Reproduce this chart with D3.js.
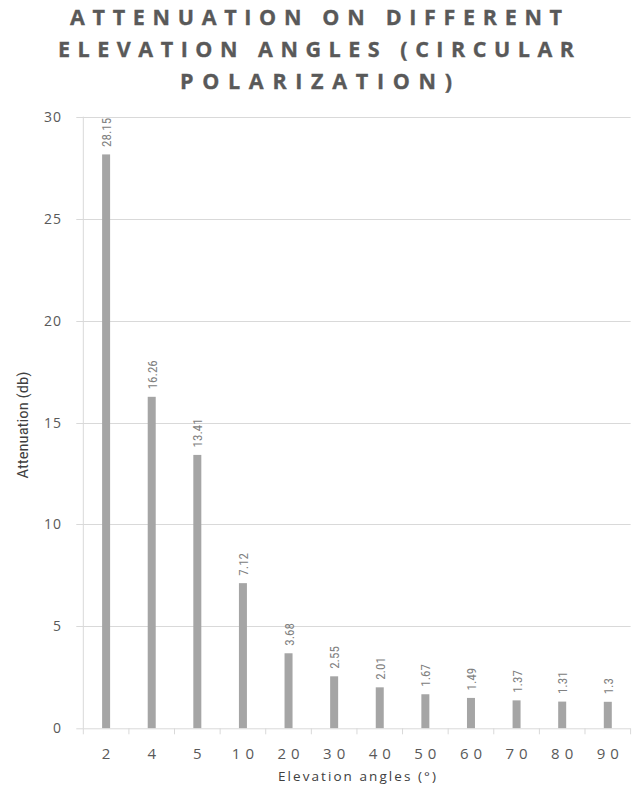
<!DOCTYPE html>
<html><head><meta charset="utf-8">
<script src="https://cdn.jsdelivr.net/npm/d3@7"></script>
<style>body{margin:0;background:#fff}</style>
</head><body>
<svg id="chart" width="636" height="787"></svg>
<script>
const titleLines = ["ATTENUATION ON DIFFERENT","ELEVATION ANGLES (CIRCULAR","POLARIZATION)"];
const categories = ["2","4","5","10","20","30","40","50","60","70","80","90"];
const values = [28.15,16.26,13.41,7.12,3.68,2.55,2.01,1.67,1.49,1.37,1.31,1.3];
const yTicks = [0,5,10,15,20,25,30];
const yTitle = "Attenuation (db)";
const xTitle = "Elevation angles (°)";

const svg = d3.select("#chart");
const pLeft = 83.3, pRight = 630.6, pTop = 116.7, pBottom = 728.3;
const x = d3.scaleBand().domain(categories).range([pLeft, pRight]);
const y = d3.scaleLinear().domain([0, 30]).range([pBottom, pTop]);

// title
const titleWidths = [492, 516, 272];
const titleBase = [25.3, 57.4, 89.4];
titleLines.forEach((t, i) => {
  svg.append("text").attr("x", 316).attr("y", titleBase[i])
    .attr("text-anchor", "middle")
    .attr("font-family", "'Open Sans', sans-serif").attr("font-weight", 700)
    .attr("font-size", 21.5).attr("fill", "#595959")
    .attr("stroke", "#595959").attr("stroke-width", 0.35)
    .attr("textLength", titleWidths[i]).attr("lengthAdjust", "spacing")
    .text(t);
});

// gridlines
svg.append("g").selectAll("line").data(yTicks.filter(d => d > 0)).join("line")
  .attr("x1", pLeft - 7).attr("x2", pRight)
  .attr("y1", d => Math.round(y(d)) + 0.5).attr("y2", d => Math.round(y(d)) + 0.5)
  .attr("stroke", "#d9d9d9").attr("stroke-width", 1);

// y axis line
svg.append("line").attr("x1", pLeft).attr("x2", pLeft).attr("y1", pTop).attr("y2", pBottom)
  .attr("stroke", "#d9d9d9");

// y tick labels
svg.append("g").selectAll("text").data(yTicks).join("text")
  .attr("x", 62).attr("y", d => y(d) + 5)
  .attr("text-anchor", "end")
  .attr("font-family", "'Open Sans', sans-serif").attr("font-size", 14)
  .attr("letter-spacing", 1).attr("fill", "#595959")
  .text(d => d);

// bars
const barW = 8;
svg.append("g").selectAll("rect").data(values).join("rect")
  .attr("x", (d, i) => x(categories[i]) + x.bandwidth() / 2 - barW / 2)
  .attr("width", barW)
  .attr("y", d => y(d)).attr("height", d => pBottom - y(d))
  .attr("fill", "#a5a5a5");

// x axis line and ticks
svg.append("line").attr("x1", pLeft - 7).attr("x2", pRight).attr("y1", pBottom + 0.5).attr("y2", pBottom + 0.5)
  .attr("stroke", "#d9d9d9");
const bounds = categories.map(c => x(c)).concat([pRight]);
svg.append("g").selectAll("line").data(bounds).join("line")
  .attr("x1", d => d).attr("x2", d => d).attr("y1", pBottom).attr("y2", pBottom + 6)
  .attr("stroke", "#d9d9d9");

// data labels
svg.append("g").selectAll("text").data(values).join("text")
  .attr("transform", (d, i) => `translate(${x(categories[i]) + x.bandwidth() / 2 + 5},${y(d) - 7.5}) rotate(-90)`)
  .attr("text-anchor", "start")
  .attr("font-family", "'Liberation Sans Narrow', 'Roboto Condensed', 'Roboto', sans-serif")
  .attr("font-size", 13).attr("fill", "#808080")
  .text(d => d);

// x tick labels
const ls = 5;
svg.append("g").selectAll("text").data(categories).join("text")
  .attr("x", d => x(d) + x.bandwidth() / 2 + (d.length > 1 ? ls / 2 : 0))
  .attr("y", 759)
  .attr("text-anchor", "middle")
  .attr("font-family", "'Open Sans', sans-serif").attr("font-size", 15)
  .attr("letter-spacing", d => d.length > 1 ? ls : 0).attr("fill", "#595959")
  .text(d => d);

// axis titles
svg.append("text").attr("x", (pLeft + pRight) / 2).attr("y", 781)
  .attr("text-anchor", "middle")
  .attr("font-family", "'Open Sans', sans-serif").attr("font-size", 13.5)
  .attr("fill", "#404040").attr("textLength", 158).attr("lengthAdjust", "spacing")
  .text(xTitle);

svg.append("text").attr("transform", `translate(28.3,425) rotate(-90)`)
  .attr("text-anchor", "middle")
  .attr("font-family", "'Liberation Sans Narrow', 'Roboto Condensed', 'Roboto', sans-serif")
  .attr("font-size", 15).attr("fill", "#404040")
  .attr("textLength", 107).attr("lengthAdjust", "spacingAndGlyphs")
  .text(yTitle);
</script>
</body></html>
